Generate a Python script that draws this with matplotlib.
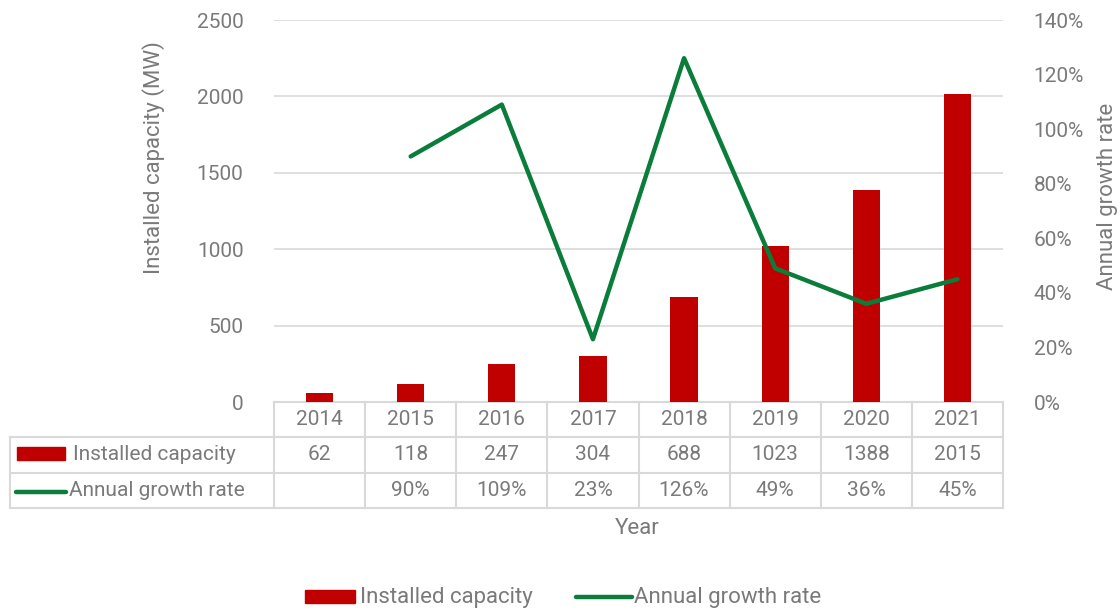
import matplotlib.pyplot as plt
import numpy as np
from matplotlib.transforms import blended_transform_factory
from matplotlib.ticker import FuncFormatter
from matplotlib.patches import Rectangle
from matplotlib.lines import Line2D

years = ["2014", "2015", "2016", "2017", "2018", "2019", "2020", "2021"]
capacity = [62, 118, 247, 304, 688, 1023, 1388, 2015]
growth = [None, 90, 109, 23, 126, 49, 36, 45]

BAR = "#c00000"
LINE = "#0a7d3b"
TXT = "#7a7a7a"
GRID = "#d9d9d9"
W, H = 1120, 610
FS = 15
FL = 16

plt.rcParams["font.family"] = ["Roboto", "DejaVu Sans"]

fig = plt.figure(figsize=(W / 100, H / 100), dpi=100)
ax = fig.add_axes([274 / W, 1 - 402 / H, (1003 - 274) / W, (402 - 20) / H])
ax2 = ax.twinx()

x = np.arange(len(years))
ax.bar(x, capacity, width=0.3, color=BAR, zorder=3)
gx = [i for i, g in enumerate(growth) if g is not None]
gy = [g for g in growth if g is not None]
ax2.plot(gx, gy, color=LINE, lw=3.2, solid_capstyle="round", zorder=4)

ax.set_xlim(-0.5, len(years) - 0.5)
ax.set_ylim(0, 2500)
ax.set_yticks(np.arange(0, 2501, 500))
ax2.set_ylim(0, 140)
ax2.set_yticks(np.arange(0, 141, 20))
ax2.yaxis.set_major_formatter(FuncFormatter(lambda v, p: f"{v:.0f}%"))
ax.set_xticks([])
ax.grid(axis="y", color=GRID, lw=1.2, zorder=0)

for a in (ax, ax2):
    for s in a.spines.values():
        s.set_visible(False)
    a.tick_params(axis="y", length=0, labelsize=FS, labelcolor=TXT)
ax.tick_params(axis="y", pad=22)
ax2.tick_params(axis="y", pad=22)

ax.set_ylabel("Installed capacity (MW)", fontsize=FL, color=TXT)
ax.yaxis.set_label_coords(-0.149, 0.64)
ax2.set_ylabel("Annual growth rate", fontsize=FL, color=TXT)
ax2.yaxis.set_label_coords(1.129, 0.537)

# data table under the plot: x in data units, y in figure pixels
tr = blended_transform_factory(ax.transData, fig.transFigure)
fy = lambda py: 1 - py / H
lkw = dict(color=GRID, lw=1.5, clip_on=False, transform=tr)
row_top, row1, row2, row_bot = 402, 437, 473, 508
left_px = 10 / W

ax.plot([-0.5, len(years) - 0.5], [fy(row_top)] * 2, **lkw)
for b in np.arange(-0.5, len(years)):
    ax.plot([b, b], [fy(row_top), fy(row_bot)], **lkw)
for py in (row1, row2, row_bot):
    fig.add_artist(Line2D([left_px, 1003 / W], [fy(py)] * 2, color=GRID, lw=1.5))
fig.add_artist(Line2D([left_px] * 2, [fy(row1), fy(row_bot)], color=GRID, lw=1.5))

tkw = dict(ha="center", va="center", fontsize=FS, color=TXT, transform=tr)
for i, yr in enumerate(years):
    ax.text(i, fy((row_top + row1) / 2), yr, **tkw)
    ax.text(i, fy((row1 + row2) / 2), f"{capacity[i]}", **tkw)
    if growth[i] is not None:
        ax.text(i, fy((row2 + row_bot) / 2), f"{growth[i]}%", **tkw)

# row keys
fig.add_artist(Rectangle((17 / W, fy(460)), 48 / W, 13 / H, color=BAR))
fig.text(73 / W, fy((row1 + row2) / 2), "Installed capacity", fontsize=FS,
         color=TXT, va="center")
fig.add_artist(Line2D([16 / W, 66 / W], [fy(492)] * 2, color=LINE, lw=3.2,
                      solid_capstyle="round"))
fig.text(69 / W, fy((row2 + row_bot) / 2), "Annual growth rate", fontsize=FS,
         color=TXT, va="center")

fig.text(637 / W, fy(528), "Year", fontsize=FL, color=TXT, ha="center", va="center")

# bottom legend
fig.add_artist(Rectangle((305 / W, fy(603)), 50 / W, 13 / H, color=BAR))
fig.text(360 / W, fy(598), "Installed capacity", fontsize=FL, color=TXT, va="center")
fig.add_artist(Line2D([576 / W, 632 / W], [fy(597)] * 2, color=LINE, lw=3.2,
                      solid_capstyle="round"))
fig.text(634 / W, fy(598), "Annual growth rate", fontsize=FL, color=TXT, va="center")

fig.savefig("out.png", dpi=100)
